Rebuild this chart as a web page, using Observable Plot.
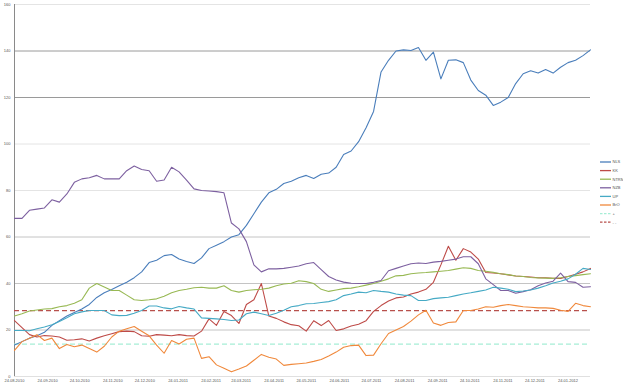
<!DOCTYPE html>
<html>
<head>
<meta charset="utf-8">
<script src="https://cdn.jsdelivr.net/npm/d3@7"></script>
<script src="https://cdn.jsdelivr.net/npm/@observablehq/plot@0.6"></script>
<style>
  html, body { margin: 0; padding: 0; background: #fff; }
  #wrap { position: relative; width: 623px; height: 388px; overflow: hidden; }
  #legend { position: absolute; left: 0; top: 0; }
</style>
</head>
<body>
<div id="wrap"></div>
<script>
// ---- data (weekly observations from 24.08.2010) ----
const startDate = "2010-08-24";
const weekCount = 78;
const xTickLabels = ["24.08.2010","24.09.2010","24.10.2010","24.11.2010","24.12.2010","24.01.2011","24.02.2011","24.03.2011","24.04.2011","24.05.2011","24.06.2011","24.07.2011","24.08.2011","24.09.2011","24.10.2011","24.11.2011","24.12.2011","24.01.2012"];
const yTicks = [0, 20, 40, 60, 80, 100, 120, 140, 160];
const seriesNames = ["NLS", "KK", "NTRM", "NZB", "UP", "BrO", "+", "- -"];
const seriesColors = ["#4a7ebb", "#be4b48", "#98b954", "#7d60a0", "#46aac5", "#f0893c", "#a6eed6", "#b8504c"];

const blue = [13.5,15,16.5,17.5,19,22,24,26,27.5,29,31,34,36,37.4,39,40.5,42.5,45,49,50,52,52.5,50.5,49.5,48.6,51,55,56.5,58,60,61,65,70,75,79,80.5,83,84,85.5,86.5,85.2,87,87.5,90,95.5,97,101,107,114,131,136,140,140.5,140.2,141.5,136,139.5,128,136,136.2,135,127.5,123,121,116.6,118,120,126,130.2,131.5,130.5,132,130.5,133,135,136,138,140.5];
const red = [24,21,18,17,17.6,17.4,17,15.6,15.8,16.2,15.3,16.5,17.5,18.4,19.3,19.5,19.3,17.5,17.3,18,17.8,17.5,18,17.6,17.4,19.5,24.8,22,28,26.2,22.8,31,33,40,26,25,23.5,22.3,21.8,19.5,24,21.9,24.1,19.8,20.5,21.7,22.5,24,28,30.5,32.5,33.8,34.2,35.5,36.3,37.5,40.5,48,56,50,55,53.5,50.5,44.7,44.5,44.2,43.7,43.2,43,42.8,42.5,42.5,42.2,42.2,43,44,45,46.5];
const green = [26,27,28.2,28.6,29,29.2,30,30.5,31.5,33,38,40,38.5,37,37,35,33,32.7,33,33.4,34.5,36,37,37.5,38.2,38.4,38,38,39,37,36.3,37,37.3,37.5,38,39,39.8,40.1,41.2,40.8,40,37.5,36.6,37.2,37.8,38,38.6,39.3,40,41,42,43.3,43.5,44.2,44.5,44.7,45,45.3,45.6,46.2,46.8,46.5,45.6,45.3,44.8,44.2,43.8,43.2,43,42.6,42.4,42.3,42.2,42.5,43,43.4,43.8,44.2];
const purple = [68,68,71.5,72,72.5,76,75,78.5,83.5,85,85.5,86.5,85,85,85,88.5,90.5,89,88.5,84,84.5,90,88,84.5,80.7,80,79.8,79.5,79,66,63.5,58,48,45,46.3,46.3,46.5,47,47.5,48.5,49,46,43,41.5,40.6,40.1,40,40,40.5,41.3,45.5,46.5,47.5,48.5,48.8,48.6,49.2,49.5,50,50.5,51.5,51.5,48.5,42,39.5,37,37,35.8,36.5,37.3,39,40.2,41,44.5,40.8,40.5,38.4,38.6];
const teal = [19.8,19.8,19.7,20.5,21.3,22.3,23.7,25.3,27,27.8,28.4,28.4,28.4,26.5,26.2,26.3,27.2,28.4,30.3,30.3,29.5,29.1,30.1,29.5,29,25.2,25,24.8,24.5,24.1,24.3,27,27.7,27,26.2,27.2,28.5,30,30.5,31.3,31.4,31.8,32.2,33,34.8,35.5,36.3,36,37,36.6,36.3,35.5,35,34.8,32.7,32.7,33.5,33.8,34.1,34.8,35.5,36,36.6,37.2,38.4,38,37.5,36.5,36.8,37.2,38,39,40.2,41,42,44,46.5,46];
const orange = [11.2,15,16.5,18,15.5,16.5,12,13.8,12.8,13.5,12,10.5,13,17,19.5,20.5,21.5,19.5,17.5,13.5,10,15.5,14,16,16.5,7.8,8.5,5,3.5,2,3.2,4.5,7,9.5,8.3,7.5,4.8,5.2,5.5,5.8,6.5,7.3,8.8,10.5,12.6,13.3,13.5,9,9.2,14.1,18.5,20,21.5,23.8,26.5,28.5,23,22,23.2,23.5,28.4,28.4,29,30,29.8,30.5,31,30.5,30,29.8,29.5,29.5,29.3,28.5,28,31.5,30.5,30];
const cyanLevel = 13.9;
const redLevel = 28.3;

// ---- build table ----
const t0 = new Date(startDate + "T00:00:00Z");
const dates = d3.range(weekCount).map(k => d3.utcDay.offset(t0, 7 * k));
const seriesValues = [blue, red, green, purple, teal, orange];
const rows = seriesValues.map((vals, i) => vals.map((v, k) => ({date: dates[k], value: v, name: seriesNames[i]})));
const parseTick = d3.utcParse("%d.%m.%Y");
const tickDates = xTickLabels.map(parseTick);
const xDomain = [dates[0], dates[dates.length - 1]];

const chart = Plot.plot({
  width: 623,
  height: 388,
  marginLeft: 14,
  marginRight: 33,
  marginTop: 4,
  marginBottom: 12,
  style: {fontFamily: "Liberation Sans, Arial, sans-serif", fontSize: "4px", color: "#555", background: "#fff", overflow: "visible"},
  x: {type: "utc", domain: xDomain, ticks: tickDates, tickFormat: d3.utcFormat("%d.%m.%Y"), tickSize: 0, tickPadding: 3, label: null},
  y: {domain: [0, 160], ticks: yTicks, tickSize: 0, tickPadding: 4, label: null},
  marks: [
    Plot.ruleY([20, 40, 60], {stroke: "#c4c4c4", strokeWidth: 1}),
    Plot.ruleY([80, 100, 160], {stroke: "#e4e4e4", strokeWidth: 1}),
    Plot.ruleY([120, 140], {stroke: "#9a9a9a", strokeWidth: 1}),
    Plot.ruleY([0], {stroke: "#e0e0e0", strokeWidth: 1}),
    Plot.ruleX([xDomain[0]], {stroke: "#8a8a8a", strokeWidth: 1}),
    Plot.ruleY([cyanLevel], {stroke: seriesColors[6], strokeWidth: 1.2, strokeDasharray: "5,3"}),
    Plot.ruleY([redLevel], {stroke: seriesColors[7], strokeWidth: 1.2, strokeDasharray: "5,3"}),
    ...rows.map((data, i) => Plot.line(data, {x: "date", y: "value", stroke: seriesColors[i], strokeWidth: 1.1}))
  ]
});
const wrap = document.getElementById("wrap");
wrap.appendChild(chart);

// ---- legend ----
const lg = d3.select(wrap).append("svg").attr("id", "legend").attr("width", 623).attr("height", 388);
seriesNames.forEach((name, i) => {
  const y = 162 + i * 8.6;
  lg.append("line").attr("x1", 600).attr("x2", 611).attr("y1", y).attr("y2", y)
    .attr("stroke", seriesColors[i]).attr("stroke-width", 1.3)
    .attr("stroke-dasharray", i >= 6 ? "2.5,1.5" : null);
  lg.append("text").attr("x", 612.5).attr("y", y).attr("dy", "0.35em")
    .attr("font-family", "Liberation Sans, Arial, sans-serif").attr("font-size", "4px").attr("fill", "#555")
    .text(name);
});
</script>
</body>
</html>
